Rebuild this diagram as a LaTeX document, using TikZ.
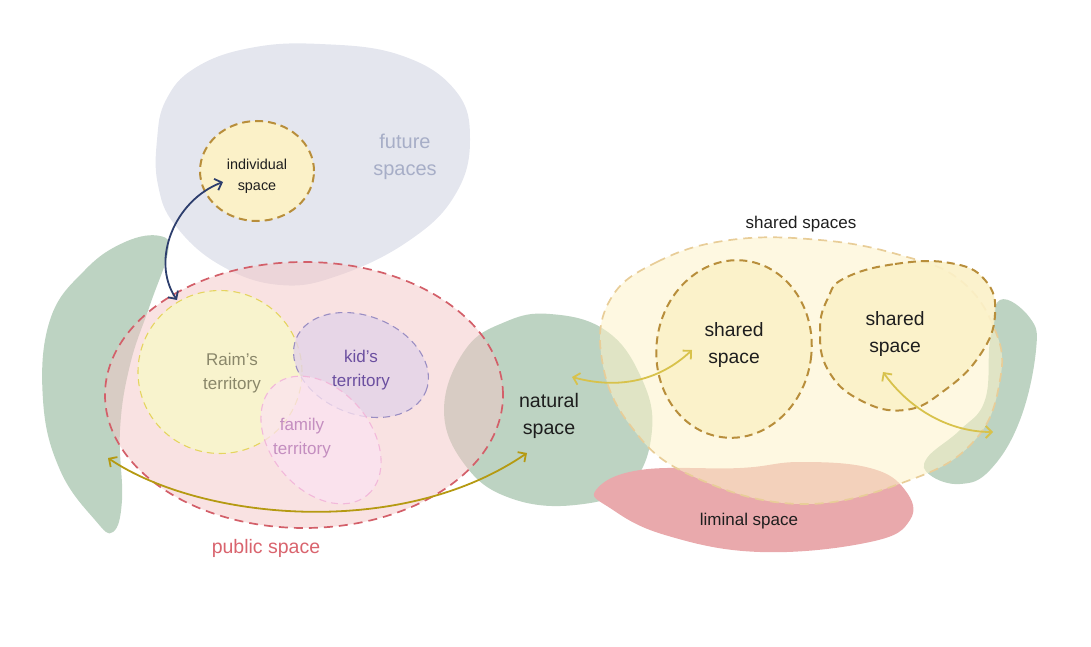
\documentclass[tikz,border=0pt]{standalone}
\usepackage{fontspec}
\setmainfont{Liberation Sans}
\usetikzlibrary{arrows.meta,shapes.geometric}
\definecolor{futureC}{HTML}{E4E6EE}
\definecolor{greenC}{HTML}{BDD3C2}
\definecolor{pinkF}{HTML}{F4C6C6}
\definecolor{pubL}{HTML}{D35F69}
\definecolor{raimF}{HTML}{F8F3CD}
\definecolor{raimL}{HTML}{E5D45F}
\definecolor{kidF}{HTML}{E3D3E8}
\definecolor{kidL}{HTML}{9A8EC3}
\definecolor{famF}{HTML}{FBE3F1}
\definecolor{famL}{HTML}{F2B8DA}
\definecolor{bigF}{HTML}{FDF3C8}
\definecolor{bigL}{HTML}{E8CD98}
\definecolor{shF}{HTML}{FBF1C8}
\definecolor{shL}{HTML}{B88E3B}
\definecolor{limC}{HTML}{E9A9AC}
\definecolor{navyC}{HTML}{2D3E6D}
\definecolor{oliveC}{HTML}{B59A12}
\definecolor{yelC}{HTML}{D8C24B}
\definecolor{futT}{HTML}{A7AEC7}
\definecolor{raimT}{HTML}{8A876A}
\definecolor{kidT}{HTML}{6B4FA0}
\definecolor{famT}{HTML}{C48EC0}
\definecolor{pubT}{HTML}{D9646E}
\definecolor{txtC}{HTML}{1E1E1E}
\begin{document}
\begin{tikzpicture}[x=1pt,y=-1pt,
  blob/.style={smooth cycle, tension=0.7},
  area/.style={ellipse, inner sep=0pt},
  thickdash/.style={line width=2pt, dash pattern=on 8pt off 5pt},
  thindash/.style={line width=1.1pt, dash pattern=on 7pt off 5pt},
  link/.style={line width=1.8pt, {Straight Barb[length=6pt,width=12pt]}-{Straight Barb[length=6pt,width=12pt]}},
  lbl/.style={align=center, inner sep=0pt, text=txtC}
]
\useasboundingbox (0,0) rectangle (1091,647);
% background blobs
\fill[futureC] plot[blob] coordinates {(157,140) (166,100) (195,68) (250,48) (320,44) (400,55) (455,90) (470,140) (455,195) (410,240) (340,275) (280,285) (220,265) (175,225) (158,185)};
\fill[greenC] plot[blob] coordinates {(160,236) (168,252) (150,305) (130,365) (120,430) (122,500) (113,532) (95,520) (60,470) (43,400) (50,320) (85,270) (125,242)};
\fill[greenC] plot[blob] coordinates {(550,314) (605,330) (640,375) (652,430) (630,485) (575,505) (510,498) (465,465) (444,410) (465,350) (505,322)};
\fill[greenC] plot[blob] coordinates {(1000,300) (1030,318) (1036,350) (1020,420) (990,470) (960,484) (930,475) (927,458) (960,430) (985,400) (990,340)};
\fill[limC] plot[blob] coordinates {(596,490) (640,470) (740,468) (800,462) (870,468) (905,490) (910,520) (870,542) (760,552) (665,535) (610,508)};
% public space and territories
\node[area, minimum width=398pt, minimum height=266pt, fill=pinkF, fill opacity=0.5, draw=pubL, line width=1.7pt, dash pattern=on 9pt off 6pt] (public) at (304,395) {};
\node[area, minimum width=164pt, minimum height=163pt, fill=raimF, draw=raimL, thindash] (raim) at (220,372) {};
\node[area, minimum width=140pt, minimum height=98pt, rotate=-22, fill=kidF, fill opacity=0.8, draw=kidL, thindash] (kid) at (361,365) {};
\node[area, minimum width=144pt, minimum height=100pt, rotate=-50, fill=famF, fill opacity=0.75, draw=famL, thindash] (family) at (321,440) {};
% shared spaces
\path[fill=bigF, fill opacity=0.55, draw=bigL, line width=1.7pt, dash pattern=on 9pt off 6pt] plot[blob] coordinates {(610,300) (657,262) (730,240) (820,240) (900,255) (960,280) (995,330) (1000,380) (975,440) (910,480) (800,504) (690,475) (630,425) (602,360)};
\node[area, minimum width=155pt, minimum height=178pt, rotate=-8, fill=shF, fill opacity=0.9, draw=shL, thickdash] (shared1) at (734,349) {};
\path[fill=shF, fill opacity=0.9, draw=shL, thickdash] plot[smooth cycle, tension=0.75] coordinates {(845,278) (895,264) (950,263) (985,280) (995,315) (980,355) (945,390) (905,410) (860,400) (828,370) (820,330) (828,298)};
% individual space
\node[area, minimum width=114pt, minimum height=100pt, fill=shF, draw=shL, thickdash] (indiv) at (257,171) {};
% arrow end points
\coordinate (bA) at (223,182);
\coordinate (bB) at (177,300);
\coordinate (oA) at (108,458);
\coordinate (oB) at (527,453);
\coordinate (yA) at (572,377);
\coordinate (yB) at (692,350);
\coordinate (zA) at (883,372);
\coordinate (zB) at (993,432);
\draw[link, navyC] (bA) .. controls (175,200) and (150,260) .. (bB);
\draw[link, oliveC] (oA) .. controls (200,520) and (400,540) .. (oB);
\draw[link, yelC] (yA) .. controls (620,390) and (660,380) .. (yB);
\draw[link, yelC] (zA) .. controls (910,410) and (950,432) .. (zB);
% labels
\node[lbl, text=futT, font=\fontsize{20}{27}\selectfont] (tfut) at (405,157) {future\\spaces};
\node[lbl, font=\fontsize{14.4}{21}\selectfont] (tind) at (257,176) {individual\\space};
\node[lbl, text=raimT, font=\fontsize{17}{23.5}\selectfont] (traim) at (232,373) {Raim’s\\territory};
\node[lbl, text=kidT, font=\fontsize{17}{24}\selectfont] (tkid) at (361,370) {kid’s\\territory};
\node[lbl, text=famT, font=\fontsize{17}{24}\selectfont] (tfam) at (302,438) {family\\territory};
\node[lbl, text=pubT, font=\fontsize{19.5}{24}\selectfont] (tpub) at (266,548) {public space};
\node[lbl, font=\fontsize{19.6}{27}\selectfont] (tnat) at (549,416) {natural\\space};
\node[lbl, font=\fontsize{17}{22}\selectfont] (tshs) at (801,224) {shared spaces};
\node[lbl, font=\fontsize{19.3}{27}\selectfont] (tsh1) at (734,345) {shared\\space};
\node[lbl, font=\fontsize{19.3}{27}\selectfont] (tsh2) at (895,334) {shared\\space};
\node[lbl, font=\fontsize{17}{22}\selectfont] (tlim) at (749,521) {liminal space};
\end{tikzpicture}
\end{document}
